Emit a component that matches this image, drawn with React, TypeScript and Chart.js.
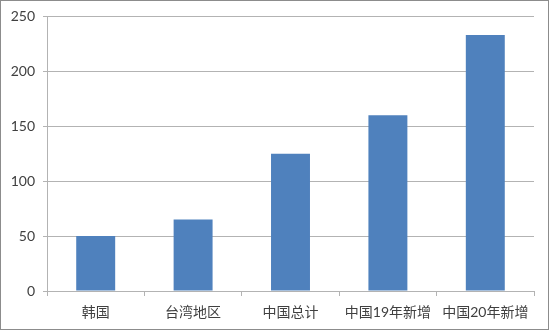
import React, { useEffect, useRef } from "react";
import { Chart, registerables } from "chart.js";

Chart.register(...registerables);

const categories = ["韩国", "台湾地区", "中国总计", "中国19年新增", "中国20年新增"];
const values = [50, 65, 125, 160, 233];
const yTicks = [0, 50, 100, 150, 200, 250];

const FONT = "Lato, 'Noto Sans CJK SC', sans-serif";

export default function App() {
  const ref = useRef<HTMLCanvasElement | null>(null);

  useEffect(() => {
    const canvas = ref.current;
    if (!canvas) return;
    const chart = new Chart(canvas, {
      type: "bar",
      data: {
        labels: categories,
        datasets: [
          {
            data: values,
            backgroundColor: "#4f81bd",
            borderWidth: 0,
            categoryPercentage: 1,
            barPercentage: 0.4,
          },
        ],
      },
      options: {
        animation: false,
        responsive: false,
        maintainAspectRatio: false,
        layout: { padding: { top: 15, right: 16, left: 0, bottom: 0 } },
        plugins: {
          legend: { display: false },
          tooltip: { enabled: false },
        },
        scales: {
          x: {
            offset: true,
            grid: {
              offset: true,
              drawOnChartArea: false,
              drawTicks: true,
              tickLength: 5,
              color: "#b3b3b3",
            },
            border: { color: "#b3b3b3", width: 1 },
            ticks: {
              color: "#404040",
              font: { family: FONT, size: 14 },
              padding: 8,
              maxRotation: 0,
              autoSkip: false,
            },
            afterFit: (scale: any) => {
              scale.height = 40;
            },
          },
          y: {
            min: 0,
            max: 250,
            afterBuildTicks: (scale: any) => {
              scale.ticks = yTicks.map((v) => ({ value: v }));
            },
            grid: {
              color: "#b3b3b3",
              tickLength: 4,
            },
            border: { color: "#b3b3b3", width: 1 },
            ticks: {
              color: "#404040",
              font: { family: FONT, size: 14 },
              padding: 8,
            },
            afterFit: (scale: any) => {
              scale.width = 47;
            },
          },
        },
      },
    });
    return () => chart.destroy();
  }, []);

  return (
    <div
      style={{
        position: "fixed",
        left: 0,
        top: 0,
        width: 550,
        height: 331,
        background: "#fff",
      }}
    >
      <div
        style={{
          position: "absolute",
          left: 0,
          top: 0,
          width: 549,
          height: 330,
          boxSizing: "border-box",
          border: "1px solid #8c8c8c",
          pointerEvents: "none",
          zIndex: 1,
        }}
      />
      <canvas ref={ref} width={550} height={331} style={{ display: "block" }} />
    </div>
  );
}
